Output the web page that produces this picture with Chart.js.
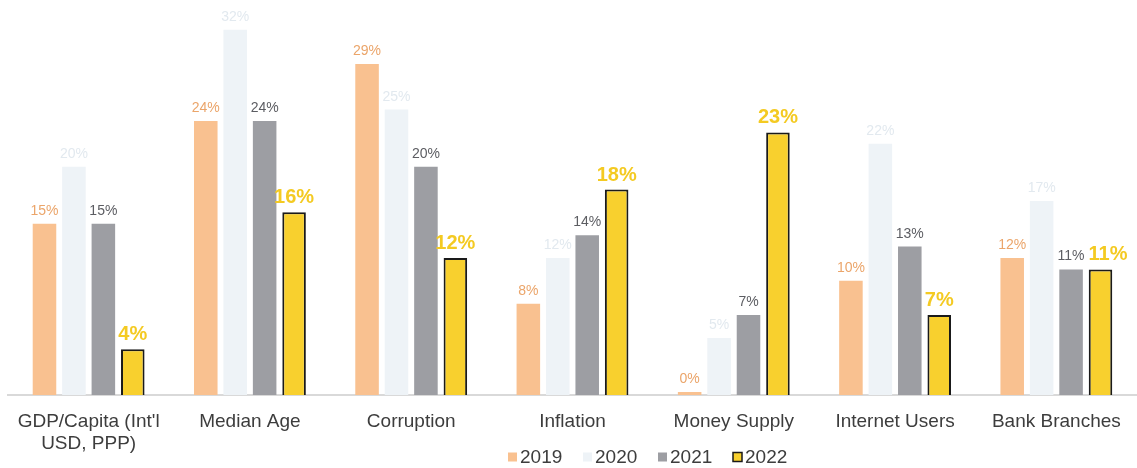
<!DOCTYPE html>
<html lang="en">
<head>
  <meta charset="UTF-8" />
  <title>Indicator Change by Year</title>
  <style>
    html, body {
      margin: 0;
      padding: 0;
      background: #fff;
    }
    .chart-box {
      position: relative;
      width: 1137px;
      height: 468px;
    }
  </style>
</head>
<body>
  <div class="chart-box">
    <canvas id="barChart"></canvas>
  </div>

  <script src="https://cdn.jsdelivr.net/npm/chart.js@4.4.1/dist/chart.umd.min.js"></script>
  <script>
    // Data
    const categories = [["GDP/Capita (Int'l", "USD, PPP)"], 'Median Age', 'Corruption', 'Inflation', 'Money Supply', 'Internet Users', 'Bank Branches'];
    const years = ['2019', '2020', '2021', '2022'];
    const values2019 = [15, 24, 29, 8, 0, 10, 12];
    const values2020 = [20, 32, 25, 12, 5, 22, 17];
    const values2021 = [15, 24, 20, 14, 7, 13, 11];
    const values2022 = [4, 16, 12, 18, 23, 7, 11];

    const FONT = "'Liberation Sans', Arial, sans-serif";
    const TEXT = '#3d3d3d';

    const barColors = ['#f9c190', '#eef3f7', '#9d9ea3', '#f8d02e'];
    const labelColors = ['#eba56a', '#e2e9ef', '#5c5d62', '#f4ca22'];
    const labelFonts = ['14px ' + FONT, '14px ' + FONT, '14px ' + FONT, 'bold 20px ' + FONT];

    // percent labels above each bar; a label is nudged right if it would run into its neighbour
    const valueLabels = {
      id: 'valueLabels',
      afterDatasetsDraw(chart) {
        const ctx = chart.ctx;
        const lastRight = [];
        const lastTop = [];
        chart.data.datasets.forEach((ds, i) => {
          const meta = chart.getDatasetMeta(i);
          ctx.save();
          ctx.font = labelFonts[i];
          ctx.fillStyle = labelColors[i];
          ctx.textAlign = 'left';
          ctx.textBaseline = 'alphabetic';
          meta.data.forEach((bar, j) => {
            const txt = ds.data[j] + '%';
            const w = ctx.measureText(txt).width;
            const y = bar.y - 9;
            let x = bar.x - w / 2;
            if (lastRight[j] !== undefined && Math.abs(lastTop[j] - y) < 18 && x < lastRight[j] + 4) {
              x = lastRight[j] + 4;
            }
            ctx.fillText(txt, x, y);
            lastRight[j] = x + w;
            lastTop[j] = y;
          });
          ctx.restore();
        });
      }
    };

    // legend row under the axis labels
    const yearLegend = {
      id: 'yearLegend',
      afterDraw(chart) {
        const ctx = chart.ctx;
        const startX = 508, step = 75, cy = 457, box = 9;
        ctx.save();
        ctx.font = '19px ' + FONT;
        ctx.textBaseline = 'middle';
        ctx.textAlign = 'left';
        years.forEach((yr, i) => {
          const x = startX + i * step;
          ctx.fillStyle = barColors[i];
          ctx.fillRect(x, cy - box / 2, box, box);
          if (i === 3) {
            ctx.strokeStyle = '#1a1a1a';
            ctx.lineWidth = 1.5;
            ctx.strokeRect(x, cy - box / 2, box, box);
          }
          ctx.fillStyle = TEXT;
          ctx.fillText(yr, x + 12, cy + 1);
        });
        ctx.restore();
      }
    };

    const seriesValues = [values2019, values2020, values2021, values2022];

    const ctx = document.getElementById('barChart').getContext('2d');
    new Chart(ctx, {
      type: 'bar',
      data: {
        labels: categories,
        datasets: years.map((yr, i) => ({
          label: yr,
          data: seriesValues[i],
          backgroundColor: barColors[i],
          borderColor: i === 3 ? '#1a1a1a' : barColors[i],
          borderWidth: i === 3 ? 2 : 0,
          minBarLength: i === 0 ? 3 : 0,
          categoryPercentage: 0.73,
          barPercentage: 0.8
        }))
      },
      options: {
        responsive: true,
        maintainAspectRatio: false,
        animation: false,
        layout: { padding: { left: 8, right: 0, top: 0, bottom: 0 } },
        plugins: {
          legend: { display: false },
          tooltip: { enabled: false }
        },
        scales: {
          x: {
            grid: { display: false, drawTicks: false },
            border: { display: true, color: '#d9d9d9', width: 2 },
            ticks: {
              color: TEXT,
              font: { family: FONT, size: 19 },
              padding: 15,
              maxRotation: 0,
              autoSkip: false
            },
            afterFit(scale) { scale.height = 73; }
          },
          y: {
            display: false,
            min: 0,
            max: 34.6
          }
        }
      },
      plugins: [valueLabels, yearLegend]
    });
  </script>
</body>
</html>
